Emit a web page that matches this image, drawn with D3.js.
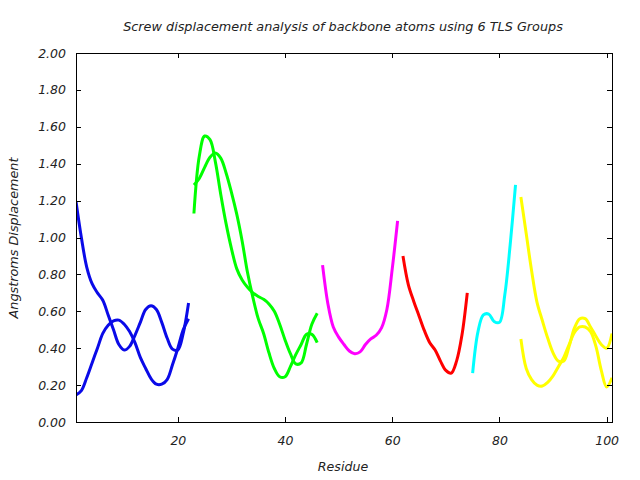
<!DOCTYPE html>
<html>
<head>
<meta charset="utf-8">
<script src="https://cdn.jsdelivr.net/npm/d3@7"></script>
<style>
  html, body { margin: 0; padding: 0; background: #ffffff; }
  svg text { font-family: "DejaVu Sans", sans-serif; font-style: italic; fill: #222; }
</style>
</head>
<body>
<svg id="chart" width="640" height="480"></svg>
<script>
// ---- data ----
const title = "Screw displacement analysis of backbone atoms using 6 TLS Groups";
const xLabel = "Residue";
const yLabel = "Angstroms Displacement";
const xTicks = [20, 40, 60, 80, 100];
const yTicks = [0, 0.2, 0.4, 0.6, 0.8, 1.0, 1.2, 1.4, 1.6, 1.8, 2.0];

const blueRes = d3.range(1, 23);
const blueA = [1.195, 1.00, 0.84, 0.75, 0.70, 0.66, 0.58, 0.50, 0.42, 0.39, 0.41, 0.47, 0.54, 0.61, 0.63, 0.61, 0.54, 0.455, 0.395, 0.39, 0.48, 0.645];
const blueB = [0.146, 0.17, 0.24, 0.32, 0.40, 0.48, 0.525, 0.548, 0.552, 0.53, 0.49, 0.43, 0.35, 0.29, 0.235, 0.205, 0.205, 0.23, 0.31, 0.40, 0.50, 0.56];

const greenRes = d3.range(23, 47);
const greenA = [1.13, 1.44, 1.55, 1.53, 1.41, 1.235, 1.075, 0.94, 0.83, 0.77, 0.73, 0.70, 0.68, 0.665, 0.64, 0.60, 0.53, 0.445, 0.37, 0.315, 0.32, 0.42, 0.53, 0.59];
const greenB = [1.285, 1.32, 1.38, 1.435, 1.458, 1.43, 1.35, 1.245, 1.125, 0.98, 0.81, 0.675, 0.56, 0.48, 0.375, 0.29, 0.245, 0.245, 0.30, 0.365, 0.42, 0.475, 0.475, 0.43];

const magentaRes = d3.range(47, 62);
const magentaA = [0.85, 0.64, 0.515, 0.46, 0.42, 0.385, 0.37, 0.38, 0.42, 0.45, 0.47, 0.51, 0.61, 0.83, 1.09];

const redRes = d3.range(62, 75);
const redA = [0.90, 0.745, 0.655, 0.575, 0.495, 0.43, 0.39, 0.33, 0.28, 0.265, 0.33, 0.47, 0.70];

const cyanRes = d3.range(75, 84);
const cyanA = [0.265, 0.49, 0.58, 0.585, 0.545, 0.54, 0.69, 0.96, 1.285];

const yellowRes = d3.range(84, 102);
const yellowA = [1.22, 1.02, 0.82, 0.65, 0.55, 0.455, 0.375, 0.33, 0.33, 0.41, 0.51, 0.56, 0.56, 0.515, 0.465, 0.42, 0.40, 0.48];
const yellowB = [0.45, 0.29, 0.23, 0.20, 0.195, 0.215, 0.25, 0.30, 0.35, 0.42, 0.485, 0.515, 0.515, 0.49, 0.41, 0.28, 0.19, 0.24];

const series = [
  { res: blueRes, vals: blueA, color: "#0a0ae8" },
  { res: blueRes, vals: blueB, color: "#0a0ae8" },
  { res: greenRes, vals: greenA, color: "#00ff00" },
  { res: greenRes, vals: greenB, color: "#00ff00" },
  { res: magentaRes, vals: magentaA, color: "#ff00ff" },
  { res: redRes, vals: redA, color: "#ff0000" },
  { res: cyanRes, vals: cyanA, color: "#00ffff" },
  { res: yellowRes, vals: yellowA, color: "#ffff00" },
  { res: yellowRes, vals: yellowB, color: "#ffff00" }
];

// ---- layout ----
const svg = d3.select("#chart");
const L = 76, R = 612, T = 53, B = 422;
const x = d3.scaleLinear().domain([1, 101]).range([L, R]);
const y = d3.scaleLinear().domain([0, 2]).range([B, T]);

svg.append("defs").append("clipPath").attr("id", "clip")
  .append("rect").attr("x", L).attr("y", T).attr("width", R - L).attr("height", B - T);

// lines
const line = d3.line()
  .x(d => x(d[0])).y(d => y(d[1]))
  .curve(d3.curveCatmullRom.alpha(0.5));

svg.append("g").attr("clip-path", "url(#clip)")
  .selectAll("path").data(series).join("path")
  .attr("d", s => line(s.res.map((r, i) => [r, s.vals[i]])))
  .attr("fill", "none")
  .attr("stroke", s => s.color)
  .attr("stroke-width", 3)
  .attr("stroke-linejoin", "round")
  .attr("stroke-linecap", "butt");

// axes
const fmtY = d3.format(".2f");
const tickLen = 5;
const gx = svg.append("g").attr("transform", `translate(0,${B})`)
  .call(d3.axisBottom(x).tickValues(xTicks).tickSizeInner(-tickLen).tickSizeOuter(0).tickPadding(14));
const gxTop = svg.append("g").attr("transform", `translate(0,${T})`)
  .call(d3.axisTop(x).tickValues(xTicks).tickSizeInner(-tickLen).tickSizeOuter(0).tickFormat(""));
const gy = svg.append("g").attr("transform", `translate(${L},0)`)
  .call(d3.axisLeft(y).tickValues(yTicks).tickSizeInner(-tickLen).tickSizeOuter(0).tickPadding(10).tickFormat(fmtY));
const gyR = svg.append("g").attr("transform", `translate(${R},0)`)
  .call(d3.axisRight(y).tickValues(yTicks).tickSizeInner(-tickLen).tickSizeOuter(0).tickFormat(""));

[gx, gxTop, gy, gyR].forEach(g => {
  g.select(".domain").remove();
  g.selectAll("line").attr("stroke", "#000").attr("shape-rendering", "crispEdges");
  g.selectAll("text").attr("font-size", 12.5).style("font-family", "DejaVu Sans, sans-serif").style("font-style", "italic").attr("fill", "#222");
});

// frame
svg.append("rect").attr("x", L).attr("y", T).attr("width", R - L).attr("height", B - T)
  .attr("fill", "none").attr("stroke", "#000").attr("stroke-width", 1).attr("shape-rendering", "crispEdges");

// labels
svg.append("text").attr("x", 343).attr("y", 31).attr("text-anchor", "middle").attr("font-size", 12.8).text(title);
svg.append("text").attr("x", 343).attr("y", 471).attr("text-anchor", "middle").attr("font-size", 12.6).text(xLabel);
svg.append("text").attr("transform", "translate(18,238) rotate(-90)").attr("text-anchor", "middle").attr("font-size", 12.8).text(yLabel);
</script>
</body>
</html>
